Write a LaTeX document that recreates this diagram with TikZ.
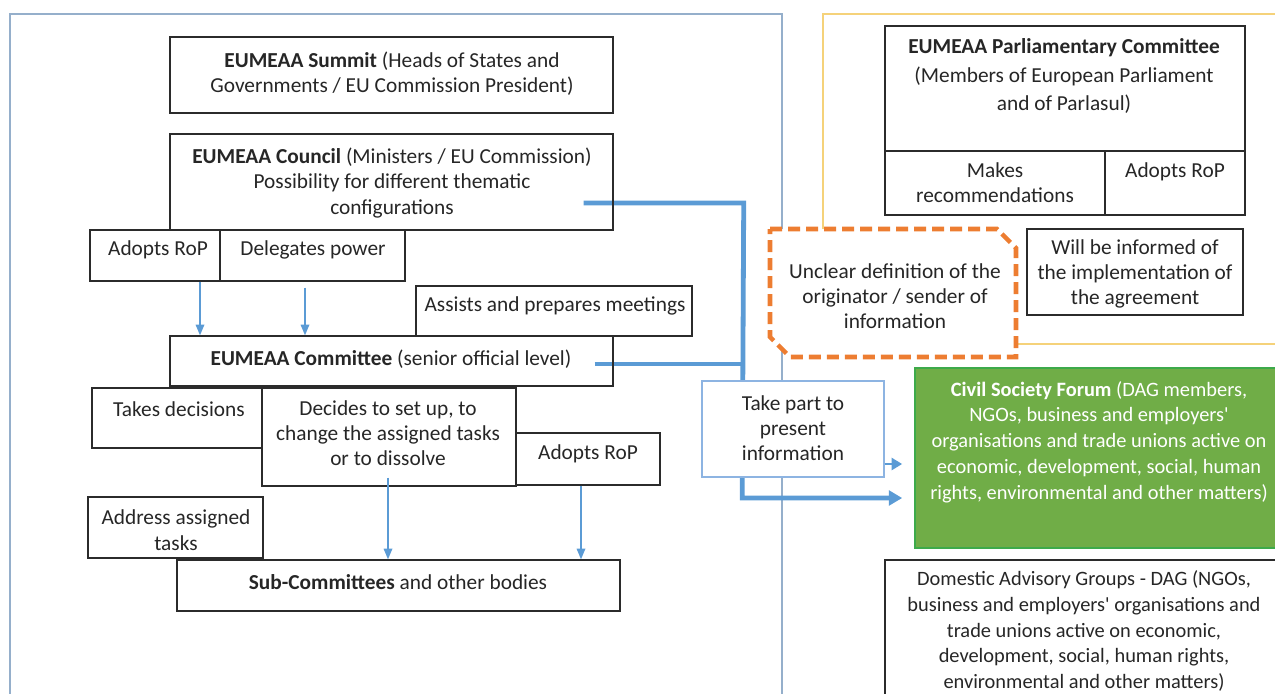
\documentclass[tikz,border=0pt]{standalone}
\usepackage{fontspec}
\setmainfont{Carlito}
\newfontfamily\aposfont{Carlito}
\usetikzlibrary{arrows.meta,fit,calc}
\definecolor{panelblue}{HTML}{95AFCB}
\definecolor{panelyellow}{HTML}{F5D27A}
\definecolor{conblue}{HTML}{5B9BD5}
\definecolor{dashorange}{HTML}{ED7D31}
\definecolor{csfgreen}{HTML}{70AD47}
\definecolor{csfborder}{HTML}{3DAA4A}
\definecolor{boxgray}{HTML}{2B2B2B}
\definecolor{takeblue}{HTML}{8DB4E2}
\pgfdeclarelayer{panel}
\pgfdeclarelayer{conn}
\pgfsetlayers{panel,conn,main}
\newcommand{\apos}{{\aposfont'}}
\begin{document}
\begin{tikzpicture}[x=0.75pt,y=-0.75pt,
  box/.style={draw=boxgray, line width=1.1pt, inner sep=0pt},
  takebox/.style={draw=takeblue, line width=1.1pt, fill=white, inner sep=0pt},
  csfbox/.style={draw=csfborder, line width=1.2pt, fill=csfgreen, inner sep=0pt},
  txt/.style={align=center, inner sep=0pt, text=black!85, font=\fontsize{16}{19}\selectfont},
  stxt/.style={txt, font=\fontsize{15.3}{19.3}\selectfont},
  wtxt/.style={stxt, text=white},
  panelline/.style={draw=panelblue, line width=1.2pt},
  yellowline/.style={draw=panelyellow, line width=1.2pt},
  thickcon/.style={draw=conblue, line width=3.6pt},
  medcon/.style={draw=conblue, line width=2.2pt, -{Triangle[width=9pt,length=8pt]}},
  thincon/.style={draw=conblue, line width=0.9pt, -{Triangle[width=6.5pt,length=8pt]}},
  dashbox/.style={draw=dashorange, line width=3.4pt, dash pattern=on 9pt off 4.5pt, fill=white}
]
\useasboundingbox (0,0) rectangle (1275,693);
\clip (0,0) rectangle (1275,693);

% panels
\begin{pgfonlayer}{panel}
\draw[panelline] (10,14) rectangle (782,720);
\draw[yellowline] (823,14) rectangle (1300,344);
\end{pgfonlayer}

% left column boxes
\node[box, fit={(170,37) (613,113)}] (summit) {};
\node[txt] (summit-t) at (392,74) {\textbf{EUMEAA Summit} (Heads of States and\\Governments / EU Commission President)};

\node[box, fit={(170,134) (613,230)}] (council) {};
\node[txt] (council-t) at (392,183) {\textbf{EUMEAA Council} (Ministers / EU Commission)\\Possibility for different thematic\\configurations};

\node[box, fit={(90,230) (220,281)}] (adopt1) {};
\node[txt] (adopt1-t) at (158,250) {Adopts RoP};
\node[box, fit={(220,230) (405,281)}] (delegates) {};
\node[txt] (delegates-t) at (313,250) {Delegates power};

\node[box, fit={(416,286) (692,336)}] (assists) {};
\node[txt] (assists-t) at (555,306) {Assists and prepares meetings};

\node[box, fit={(170,336) (613,386)}] (committee) {};
\node[txt] (committee-t) at (391,359) {\textbf{EUMEAA Committee} (senior official level)};

\node[box, fit={(92,388) (262,448)}] (takes) {};
\node[txt] (takes-t) at (179,409) {Takes decisions};
\node[box, fit={(262,388) (516,486)}] (decides) {};
\node[txt] (decides-t) at (388,433) {Decides to set up, to\\change the assigned tasks\\or to dissolve};
\node[box, fit={(516,433) (660,485)}] (adopt2) {};
\node[txt] (adopt2-t) at (588,454) {Adopts RoP};

\node[box, fit={(88,497) (263,558)}] (address) {};
\node[txt] (address-t) at (176,530) {Address assigned\\tasks};
\node[box, fit={(177,560) (620,611)}] (sub) {};
\node[txt] (sub-t) at (398,582) {\textbf{Sub-Committees} and other bodies};

% right column
\node[box, fit={(885,26) (1245,151)}] (parl) {};
\node[txt, font=\fontsize{16}{21.5}\selectfont] (parl-t) at (1064,76) {\textbf{EUMEAA Parliamentary Committee}\\(Members of European Parliament\\and of Parlasul)};
\node[box, fit={(885,151) (1105,215)}] (makes) {};
\node[txt] (makes-t) at (995,183) {Makes\\recommendations};
\node[box, fit={(1105,151) (1245,215)}] (adopt3) {};
\node[txt] (adopt3-t) at (1175,172) {Adopts RoP};

\node[box, fit={(1027,229) (1243,315)}] (will) {};
\node[txt] (will-t) at (1135,274) {Will be informed of\\the implementation of\\the agreement};

\draw[dashbox] (770,229) -- (997,229) -- (1016,248) -- (1016,357) -- (790,357) -- (770,337) -- cycle;
\node[txt] (unclear) at (895,296) {Unclear definition of the\\originator / sender of\\information};

\node[csfbox, fit={(915,368) (1300,548)}] (csf) {};
\node[wtxt] (csf-t) at (1099,442) {\textbf{Civil Society Forum} (DAG members,\\NGOs, business and employers\apos\\organisations and trade unions active on\\economic, development, social, human\\rights, environmental and other matters)};

\node[box, fit={(885,560) (1300,720)}] (dag) {};
\node[stxt] (dag-t) at (1084,631) {Domestic Advisory Groups - DAG (NGOs,\\business and employers\apos{} organisations and\\trade unions active on economic,\\development, social, human rights,\\environmental and other matters)};

\node[takebox, fit={(702,381) (884,477)}] (take) {};
\node[txt] (take-t) at (793,428) {Take part to\\present\\information};

% thick connectors
\begin{pgfonlayer}{conn}
\draw[thickcon, -{Triangle[width=11pt,length=10pt]}] ($(council.east)+(-30,21)$) -- ++(160,0) coordinate (bend)
   -- ($(csf.west)+(-172,40)$) -- ($(csf.west)+(-12,40)$);
\draw[thickcon] ($(committee.east)+(-19,3)$) -- ($(committee.east -| bend)+(0,3)$);
\end{pgfonlayer}
\draw[medcon] ($(take.east)+(0,35)$) -- ($(csf.west)+(-12,6)$);

% thin arrows
\coordinate (xa) at (200,0);
\coordinate (xb) at (305,0);
\coordinate (xc) at (388,0);
\coordinate (xd) at (581,0);
\draw[thincon] (adopt1.south -| xa) -- (committee.north -| xa);
\draw[thincon] ($(delegates.south -| xb)+(0,6)$) -- (committee.north -| xb);
\draw[thincon] ($(decides.south -| xc)+(0,-9)$) -- (sub.north -| xc);
\draw[thincon] (adopt2.south -| xd) -- (sub.north -| xd);
\end{tikzpicture}
\end{document}
